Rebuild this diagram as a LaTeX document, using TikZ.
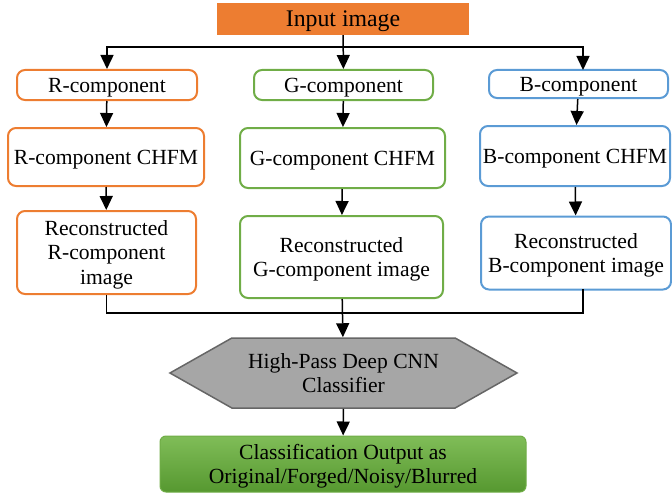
\documentclass[tikz,border=0pt]{standalone}
\usepackage{fontspec}
\setmainfont{Liberation Serif}
\usepackage{tikz}
\usetikzlibrary{arrows.meta,shapes,shapes.symbols}

\definecolor{rcol}{HTML}{ED7D31}
\definecolor{gcol}{HTML}{70AD47}
\definecolor{bcol}{HTML}{5B9BD5}

\begin{document}
\begin{tikzpicture}[
  x=1pt, y=-1pt,
  font=\fontsize{21.6}{24.5}\selectfont,    % big serif text everywhere
  block/.style  = {rectangle,
                   draw,
                   rounded corners=8pt,
                   line width=2pt,
                   align=center,
                   text depth=0pt,
                   inner sep=1pt},
  arrow/.style  = {-{Triangle[length=14pt,width=13pt]}, line width=1.5pt},
  link/.style   = {line width=1.5pt}
]
\useasboundingbox (0,0) rectangle (672,495);

\node[fill=rcol, minimum width=252pt, minimum height=32pt, inner sep=0pt, text depth=0pt,
      font=\fontsize{23.8}{26}\selectfont] (input) at (343,19) {Input image};

\node[block, draw=rcol, minimum width=180pt, minimum height=30pt] (rcomp) at (107,85)   {R-component};
\node[block, draw=gcol, minimum width=179pt, minimum height=30pt] (gcomp) at (343.5,85) {G-component};
\node[block, draw=bcol, minimum width=179pt, minimum height=28pt] (bcomp) at (578.5,84) {B-component};

\node[block, draw=rcol, minimum width=196pt, minimum height=58pt] (rchfm) at (106,157)   {R-component CHFM};
\node[block, draw=gcol, minimum width=205pt, minimum height=60pt] (gchfm) at (342.5,158) {G-component CHFM};
\node[block, draw=bcol, minimum width=190pt, minimum height=60pt] (bchfm) at (575,156)   {B-component CHFM};

\node[block, draw=rcol, minimum width=179pt, minimum height=83pt] (rrec) at (106.5,252.5) {Reconstructed\\R-component\\image};
\node[block, draw=gcol, minimum width=203pt, minimum height=82pt] (grec) at (341.5,257)   {Reconstructed\\G-component image};
\node[block, draw=bcol, minimum width=190pt, minimum height=73pt] (brec) at (576,253)     {Reconstructed\\B-component image};

\node[signal, signal to=west and east, signal pointer angle=59,
      draw=black!60, fill=black!35, line width=1.5pt, align=center, text depth=0pt,
      minimum width=347pt, minimum height=70pt, inner sep=0pt] (cnn) at (343.5,373)
      {High-Pass Deep CNN\\Classifier};

\node[rectangle, rounded corners=6pt, draw=gcol, line width=1pt,
      top color={rgb,255:red,128;green,189;blue,88},
      bottom color={rgb,255:red,86;green,152;blue,48},
      align=center, text depth=0pt,
      minimum width=366pt, minimum height=56pt, inner sep=0pt] (out) at (343,464)
      {Classification Output as\\Original/Forged/Noisy/Blurred};

\coordinate (split) at (343,47);
\coordinate (merge) at (343,313);

\draw[arrow] (input) -- (gcomp);
\draw[arrow] (split) -| (rcomp);
\draw[arrow] (split) -| (583,70);

\draw[arrow] (rcomp) -- (rchfm);
\draw[arrow] (gcomp) -- (gchfm);
\draw[arrow] (bcomp) -- (bchfm);

\draw[arrow] (rchfm) -- (rrec);
\draw[arrow] (gchfm) -- (grec);
\draw[arrow] (bchfm) -- (brec);

\draw[link] (rrec) |- (merge);
\draw[link] (583,289) |- (merge);
\draw[arrow] (grec) -- (cnn);
\draw[arrow] (cnn) -- (out);

\end{tikzpicture}
\end{document}
